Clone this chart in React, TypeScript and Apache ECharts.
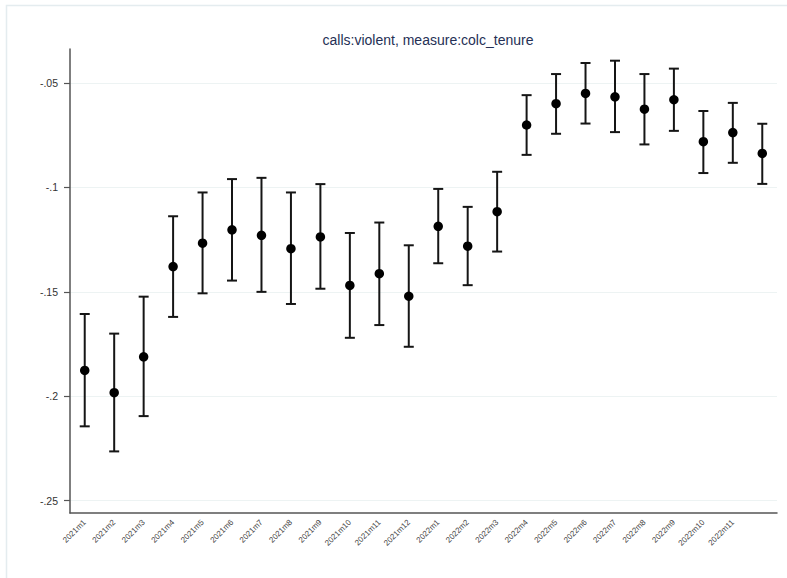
import React, { useEffect, useRef } from "react";
import * as echarts from "echarts";

const categories = [
  "2021m1", "2021m2", "2021m3", "2021m4", "2021m5", "2021m6", "2021m7", "2021m8",
  "2021m9", "2021m10", "2021m11", "2021m12", "2022m1", "2022m2", "2022m3", "2022m4",
  "2022m5", "2022m6", "2022m7", "2022m8", "2022m9", "2022m10", "2022m11", "2022m12",
];
const estimates = [
  -0.1876, -0.1983, -0.1811, -0.1379, -0.1267, -0.1203, -0.1229, -0.1293,
  -0.1237, -0.1469, -0.1413, -0.1521, -0.1186, -0.1281, -0.1116, -0.0701,
  -0.0599, -0.055, -0.0566, -0.0625, -0.058, -0.0781, -0.0737, -0.0837,
];
const upper = [
  -0.1606, -0.17, -0.1523, -0.1138, -0.1024, -0.096, -0.0954, -0.1024,
  -0.0984, -0.1218, -0.1168, -0.1277, -0.1007, -0.1093, -0.0925, -0.0558,
  -0.0457, -0.0404, -0.0393, -0.0457, -0.0431, -0.0634, -0.0595, -0.0695,
];
const lower = [
  -0.2144, -0.2264, -0.2095, -0.162, -0.1507, -0.1446, -0.15, -0.1558,
  -0.1485, -0.172, -0.1659, -0.1763, -0.1363, -0.1468, -0.1307, -0.0844,
  -0.0743, -0.0694, -0.0735, -0.0794, -0.0729, -0.0931, -0.0882, -0.0983,
];
const yTicks = [-0.25, -0.2, -0.15, -0.1, -0.05];
const titleText = "calls:violent, measure:colc_tenure";

function fmt(v: number) {
  const s = String(Math.round(v * 1000) / 1000);
  return s.replace("0.", ".");
}

export default function App() {
  const ref = useRef<HTMLDivElement>(null);
  useEffect(() => {
    document.body.style.margin = "0";
    const chart = echarts.init(ref.current!, null, { renderer: "svg" });
    const lastIdx = categories.length - 1;
    chart.setOption({
      animation: false,
      backgroundColor: "#ffffff",
      title: {
        text: titleText,
        left: 423,
        top: 28,
        textAlign: "center",
        textStyle: {
          fontFamily: "Liberation Sans, Arial, sans-serif",
          fontSize: 14,
          fontWeight: "normal",
          color: "#253055",
        },
      },
      graphic: [
        {
          type: "rect",
          shape: { x: 6.5, y: 5.5, width: 800, height: 600 },
          style: { fill: "none", stroke: "#e4ecef", lineWidth: 1.5 },
          silent: true,
          z: -10,
        },
      ],
      grid: { left: 70, right: 10, top: 49, bottom: 65, containLabel: false },
      xAxis: {
        type: "category",
        data: categories,
        boundaryGap: true,
        axisLine: { lineStyle: { color: "#555", width: 1.5 } },
        axisTick: {
          alignWithLabel: true,
          length: 6,
          lineStyle: { color: "#555", width: 1.2 },
          interval: (i: number) => i < lastIdx,
        },
        axisLabel: {
          rotate: 45,
          fontSize: 8,
          color: "#444",
          margin: 8,
          fontFamily: "Liberation Sans, Arial, sans-serif",
          interval: (i: number) => i < lastIdx,
        },
        splitLine: { show: false },
      },
      yAxis: {
        type: "value",
        min: -0.2559,
        max: -0.0337,
        axisLine: { show: true, lineStyle: { color: "#555", width: 1.5 } },
        axisTick: {
          show: true,
          length: 6,
          customValues: yTicks,
          lineStyle: { color: "#555", width: 1.2 },
        },
        axisLabel: {
          customValues: yTicks,
          formatter: (v: number) => fmt(v),
          fontSize: 10.5,
          color: "#333",
          margin: 12,
          fontFamily: "Liberation Sans, Arial, sans-serif",
        },
        splitLine: { show: true, lineStyle: { color: "#edf3f3", width: 1.2 } },
      },
      series: [
        {
          type: "custom",
          data: categories.map((_, i) => [i, lower[i], upper[i]]),
          renderItem: (params: any, api: any) => {
            const i = api.value(0);
            const lo = api.coord([i, api.value(1)]);
            const hi = api.coord([i, api.value(2)]);
            const w = 5;
            const style = { stroke: "#151515", lineWidth: 2 };
            return {
              type: "group",
              children: [
                { type: "line", shape: { x1: lo[0], y1: lo[1], x2: hi[0], y2: hi[1] }, style },
                { type: "line", shape: { x1: hi[0] - w, y1: hi[1], x2: hi[0] + w, y2: hi[1] }, style },
                { type: "line", shape: { x1: lo[0] - w, y1: lo[1], x2: lo[0] + w, y2: lo[1] }, style },
              ],
            };
          },
          z: 2,
        },
        {
          type: "scatter",
          data: estimates,
          symbol: "circle",
          symbolSize: 9.5,
          itemStyle: { color: "#000", opacity: 1 },
          z: 3,
        },
      ],
    });
    return () => chart.dispose();
  }, []);
  return <div ref={ref} style={{ width: 787, height: 578 }} />;
}
